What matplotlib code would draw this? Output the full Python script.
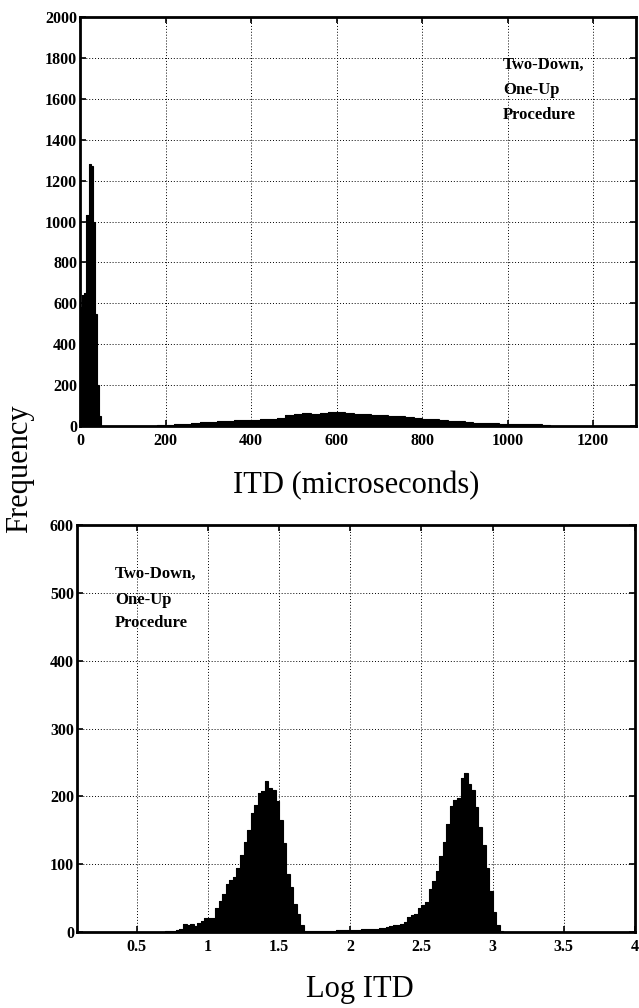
import matplotlib
matplotlib.use("Agg")
import matplotlib.pyplot as plt
import numpy as np

# ---------------- data ----------------
# Top panel: ITD (microseconds) histogram
spike_left_edges = [0, 5, 10, 15, 20, 25, 30, 35, 40, 45]
spike_counts = [580, 640, 650, 1030, 1280, 1270, 1000, 550, 200, 50]
spike_width = 5

broad_left_edges = [100, 120, 140, 160, 180, 200, 220, 240, 260, 280,
                    300, 320, 340, 360, 380, 400, 420, 440, 460, 480,
                    500, 520, 540, 560, 580, 600, 620, 640, 660, 680,
                    700, 720, 740, 760, 780, 800, 820, 840, 860, 880,
                    900, 920, 940, 960, 980, 1000, 1020, 1040, 1060, 1080]
broad_counts = [1, 1, 2, 2, 3, 5, 8, 11, 14, 18,
                21, 22, 25, 27, 28, 31, 34, 36, 40, 52,
                58, 63, 60, 65, 70, 66, 64, 60, 58, 55,
                52, 50, 47, 43, 40, 36, 32, 28, 25, 22,
                19, 16, 14, 13, 12, 11, 10, 9, 8, 5]
broad_width = 20

# Bottom panel: Log ITD histogram
log_left_edges = [0.700, 0.725, 0.750, 0.775, 0.800, 0.825, 0.850, 0.875, 0.900, 0.925,
                  0.950, 0.975, 1.000, 1.025, 1.050, 1.075, 1.100, 1.125, 1.150, 1.175,
                  1.200, 1.225, 1.250, 1.275, 1.300, 1.325, 1.350, 1.375, 1.400, 1.425,
                  1.450, 1.475, 1.500, 1.525, 1.550, 1.575, 1.600, 1.625, 1.650, 1.675,
                  1.700, 1.725, 1.750, 1.775, 1.800, 1.825, 1.850, 1.875,
                  1.900, 1.925, 1.950, 1.975, 2.000, 2.025, 2.050, 2.075, 2.100, 2.125,
                  2.150, 2.175, 2.200, 2.225, 2.250, 2.275, 2.300, 2.325, 2.350, 2.375,
                  2.400, 2.425, 2.450, 2.475, 2.500, 2.525, 2.550, 2.575, 2.600, 2.625,
                  2.650, 2.675, 2.700, 2.725, 2.750, 2.775, 2.800, 2.825, 2.850, 2.875,
                  2.900, 2.925, 2.950, 2.975, 3.000, 3.025, 3.050]
log_counts = [1, 2, 2, 3, 4, 12, 11, 12, 9, 14,
              16, 20, 21, 21, 36, 46, 56, 71, 77, 81,
              94, 113, 133, 151, 175, 188, 205, 208, 223, 212,
              210, 193, 166, 131, 86, 66, 41, 26, 11, 2,
              1, 1, 1, 2, 1, 1, 2, 2,
              3, 3, 3, 3, 3, 3, 3, 4, 4, 4,
              5, 5, 6, 6, 8, 9, 10, 11, 12, 15,
              22, 25, 27, 35, 40, 44, 64, 76, 90, 112,
              133, 160, 186, 195, 198, 228, 235, 218, 210, 185,
              155, 128, 95, 60, 30, 10, 2]
log_width = 0.025

top_xticks = [0, 200, 400, 600, 800, 1000, 1200]
top_yticks = [0, 200, 400, 600, 800, 1000, 1200, 1400, 1600, 1800, 2000]
bot_xticks = [0.5, 1, 1.5, 2, 2.5, 3, 3.5, 4]
bot_xticklabels = ["0.5", "1", "1.5", "2", "2.5", "3", "3.5", "4"]
bot_yticks = [0, 100, 200, 300, 400, 500, 600]
annotation_lines = ["Two-Down,", "One-Up", "Procedure"]

# ---------------- figure ----------------
SERIF = ["Liberation Serif", "DejaVu Serif"]
plt.rcParams["font.family"] = SERIF

fig = plt.figure(figsize=(6.39, 10.08), dpi=100)
fig.patch.set_facecolor("white")

ax1 = fig.add_axes([0.1252, 0.5774, 0.8701, 0.4057])
ax2 = fig.add_axes([0.1200, 0.0754, 0.8737, 0.4033])


def style_axes(ax):
    for s in ax.spines.values():
        s.set_linewidth(2.0)
        s.set_color("black")
    ax.tick_params(direction="in", length=4, width=1.2, top=True, right=True,
                   labelsize=11.5)
    ax.tick_params(axis="y", pad=2)
    ax.tick_params(axis="x", pad=5)
    for lab in ax.get_xticklabels() + ax.get_yticklabels():
        lab.set_fontweight("bold")
        lab.set_family(SERIF)
    ax.grid(True, color="black", linestyle=(0, (1, 2)), linewidth=0.7)
    ax.set_axisbelow(True)


def hist_fill(ax, left_edges, counts, width):
    edges = list(left_edges) + [left_edges[-1] + width]
    ax.stairs(counts, edges, fill=True, color="black", linewidth=0.8,
              zorder=2)
    ax.stairs(counts, edges, fill=False, color="black", linewidth=0.8,
              zorder=2)


# Top panel
hist_fill(ax1, broad_left_edges, broad_counts, broad_width)
hist_fill(ax1, spike_left_edges, spike_counts, spike_width)
ax1.set_xlim(0, 1300)
ax1.set_ylim(0, 2000)
ax1.set_xticks(top_xticks)
ax1.set_yticks(top_yticks)
style_axes(ax1)

# Bottom panel
hist_fill(ax2, log_left_edges, log_counts, log_width)
ax2.set_xlim(0.078, 4.0)
ax2.set_ylim(0, 600)
ax2.set_xticks(bot_xticks)
ax2.set_xticklabels(bot_xticklabels)
ax2.set_yticks(bot_yticks)
style_axes(ax2)

# Labels
fig.text(0.557, 0.511, "ITD (microseconds)", fontsize=22, ha="center",
         va="baseline", family=SERIF)
fig.text(0.563, 0.011, "Log ITD", fontsize=22, ha="center",
         va="baseline", family=SERIF)
fig.text(0.031, 0.535, "Frequency", fontsize=22, ha="center", va="center",
         rotation=90, family=SERIF)

# Annotations
top_y = [0.9355, 0.9107, 0.8859]
for yy, line in zip(top_y, annotation_lines):
    fig.text(0.787, yy, line, fontsize=12, fontweight="bold", ha="left",
             va="center", family=SERIF)
bot_y = [0.4306, 0.4048, 0.3819]
for yy, line in zip(bot_y, annotation_lines):
    fig.text(0.180, yy, line, fontsize=12, fontweight="bold", ha="left",
             va="center", family=SERIF)

fig.savefig("out.png", dpi=100, facecolor="white")
